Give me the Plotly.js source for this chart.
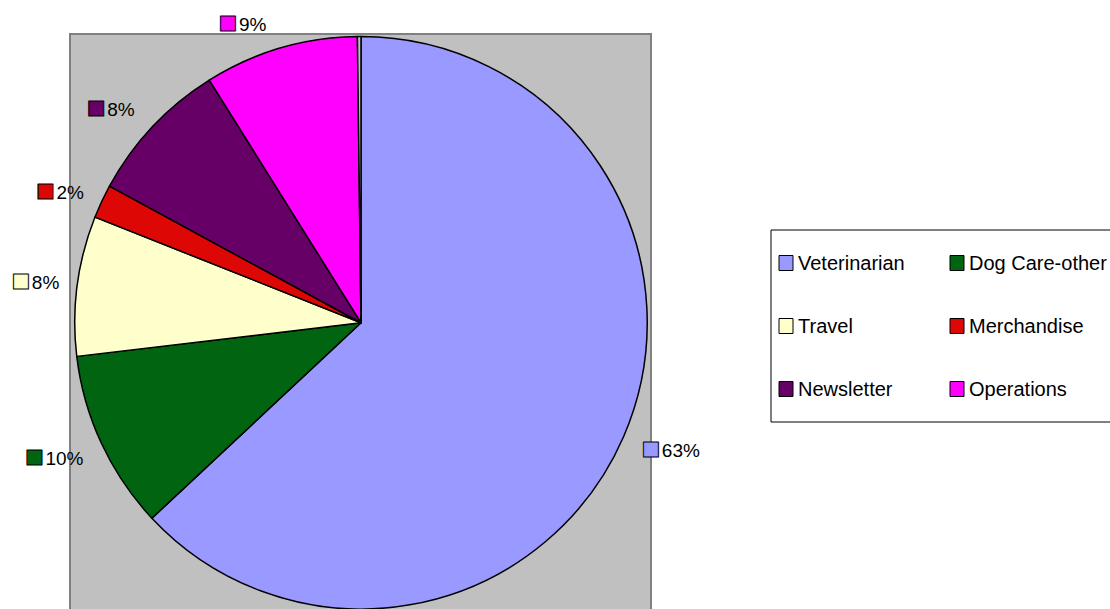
<!DOCTYPE html>
<html>
<head>
<meta charset="utf-8">
<script src="https://cdn.plot.ly/plotly-3.0.1.min.js"></script>
<style>html,body{margin:0;padding:0;background:#fff;}#chart{width:1110px;height:609px;}</style>
</head>
<body>
<div id="chart"></div>
<script>
// Data
var categories = ['Veterinarian', 'Dog Care-other', 'Travel', 'Merchandise', 'Newsletter', 'Operations', 'Other'];
var shares = [63.1, 10.1, 7.9, 1.9, 8.2, 8.7, 0.2];
var sliceColors = ['#9999FF', '#006411', '#FFFFCC', '#DD0806', '#660066', '#FF00FF', '#C0C0C0'];
var legendCategories = ['Veterinarian', 'Dog Care-other', 'Travel', 'Merchandise', 'Newsletter', 'Operations'];
// label styling only: blank lines [above, below] each label (null = no label), and the spacing font size
var labelPad = [[3, 1], [3, 1], [2, 2], [2, 2], [2, 2], [0, 1], null];
var labelSpacing = [9.5, 9.5, 9.5, 9.5, 9.5, 12, 9.5];

var W = 1110, H = 609;
var FONT = 'Liberation Sans, Arial, sans-serif';

var NB = '\u00A0';
var padH = '<span style="font-size:10px">' + NB + '</span>';
function blankLines(n) { var s = ''; for (var k = 0; k < n; k++) s += NB + '<br>'; return s; }
var templates = categories.map(function (c, i) {
  var p = labelPad[i];
  if (!p) return '';
  var core = padH +
    '<span style="color:' + sliceColors[i] + ';font-size:31px;stroke:#000000;stroke-width:1px;baseline-shift:-2px">\u25A0</span>' +
    '<span style="font-size:6px">' + NB + '</span><span style="font-size:19px">%{percent:.0%}</span>' + padH;
  var below = '';
  for (var k = 0; k < p[1]; k++) below += '<br>' + NB;
  return blankLines(p[0]) + core + below;
});

var trace = {
  type: 'pie',
  labels: categories,
  values: shares,
  sort: false,
  direction: 'clockwise',
  rotation: 0,
  marker: { colors: sliceColors, line: { color: '#000000', width: 1.5 } },
  textposition: 'outside',
  texttemplate: templates,
  textinfo: 'percent',
  outsidetextfont: { family: FONT, size: labelSpacing, color: '#000000' },
  hoverinfo: 'label+percent',
  showlegend: false,
  domain: { x: [73 / W, 649 / W], y: [0, 0.94] }
};

var shapes = [
  // plot area background
  { type: 'rect', xref: 'paper', yref: 'paper', layer: 'below',
    x0: 70 / W, x1: 651 / W, y0: -0.1, y1: 1 - 34 / H,
    fillcolor: '#C0C0C0', line: { color: '#808080', width: 2 } },
  // legend box
  { type: 'rect', xref: 'paper', yref: 'paper',
    x0: 771 / W, x1: 1.01, y0: 1 - 422 / H, y1: 1 - 230 / H,
    fillcolor: 'rgba(255,255,255,0)', line: { color: '#000000', width: 1 } }
];
var annotations = [];
var colX = [779, 950];
var rowY = [263, 326, 389];
legendCategories.forEach(function (name, i) {
  var ci = categories.indexOf(name);
  var col = i % 2, row = Math.floor(i / 2);
  var x0 = colX[col], yc = rowY[row];
  shapes.push({ type: 'rect', xref: 'paper', yref: 'paper',
    x0: x0 / W, x1: (x0 + 14) / W, y0: 1 - (yc + 7.5) / H, y1: 1 - (yc - 7.5) / H,
    fillcolor: sliceColors[ci], line: { color: '#000000', width: 1 } });
  annotations.push({ xref: 'paper', yref: 'paper', x: (x0 + 17) / W, y: 1 - yc / H,
    xanchor: 'left', yanchor: 'middle', showarrow: false, text: name,
    font: { family: FONT, size: 20, color: '#000000' } });
});

var layout = {
  width: W, height: H,
  margin: { l: 0, r: 0, t: 0, b: 0 },
  paper_bgcolor: '#FFFFFF',
  font: { family: FONT, size: 19, color: '#000000' },
  showlegend: false,
  shapes: shapes,
  annotations: annotations
};

Plotly.newPlot('chart', [trace], layout, { displayModeBar: false, staticPlot: true });
</script>
</body>
</html>
